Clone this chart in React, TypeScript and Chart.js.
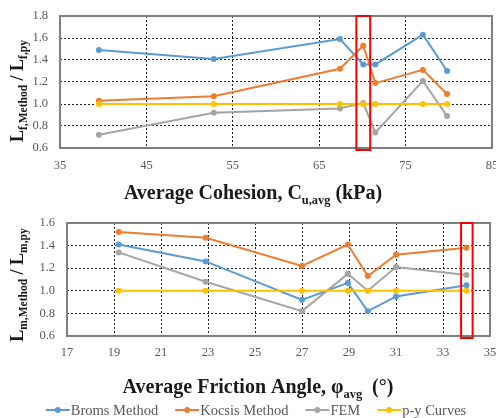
import React, { useEffect, useRef } from "react";
import { Chart, registerables } from "chart.js";

Chart.register(...registerables);

// ---------- DATA ----------
const seriesNames = ["Broms Method", "Kocsis Method", "FEM", "p-y Curves"];
const seriesColors = ["#5B9BD5", "#ED7D31", "#A5A5A5", "#FFC000"];

// Top chart: Average Cohesion (kPa)
const cohesionX = [39.5, 52.8, 67.4, 70.1, 71.5, 77.0, 79.8];
const cohesionBroms = [1.49, 1.41, 1.59, 1.36, 1.36, 1.63, 1.3];
const cohesionKocsis = [1.03, 1.07, 1.32, 1.53, 1.19, 1.31, 1.09];
const cohesionFEM = [0.72, 0.92, 0.96, 1.01, 0.74, 1.21, 0.89];
const cohesionPY = [1.0, 1.0, 1.0, 1.0, 1.0, 1.0, 1.0];
const cohesionXTicks = { min: 35, max: 85, step: 10 };
const cohesionYTicks = { min: 0.6, max: 1.8, step: 0.2 };
const cohesionHighlight = [69.3, 70.9];

// Bottom chart: Average Friction Angle (deg)
const frictionX = [19.2, 22.9, 27.0, 28.95, 29.8, 31.0, 34.0];
const frictionBroms = [1.41, 1.26, 0.92, 1.07, 0.82, 0.95, 1.05];
const frictionKocsis = [1.52, 1.47, 1.22, 1.41, 1.13, 1.32, 1.38];
const frictionFEM = [1.34, 1.08, 0.82, 1.15, 1.0, 1.21, 1.14];
const frictionPY = [1.0, 1.0, 1.0, 1.0, 1.0, 1.0, 1.0];
const frictionXTicks = { min: 17, max: 35, step: 2 };
const frictionYTicks = { min: 0.6, max: 1.6, step: 0.2 };
const frictionHighlight = [33.77, 34.26];

type Part = { t: string; sub?: boolean };

const topYTitle: Part[] = [
  { t: "L" }, { t: "f,Method", sub: true }, { t: " / L" }, { t: "f,py", sub: true },
];
const topXTitle: Part[] = [
  { t: "Average Cohesion, C" }, { t: "u,avg", sub: true }, { t: " (kPa)" },
];
const botYTitle: Part[] = [
  { t: "L" }, { t: "m,Method", sub: true }, { t: " / L" }, { t: "m,py", sub: true },
];
const botXTitle: Part[] = [
  { t: "Average Friction Angle, \u03C6" }, { t: "avg", sub: true }, { t: "  (\u00B0)" },
];

const FONT = '"Liberation Serif", "Times New Roman", serif';
const W = 496;

function drawRich(
  ctx: CanvasRenderingContext2D,
  parts: Part[],
  x: number,
  y: number,
  size: number,
  subRatio: number,
  color: string
) {
  const subSize = size * subRatio;
  const fonts = parts.map((p) => `bold ${p.sub ? subSize : size}px ${FONT}`);
  let total = 0;
  const widths = parts.map((p, i) => {
    ctx.font = fonts[i];
    const w = ctx.measureText(p.t).width;
    total += w;
    return w;
  });
  let cx = x - total / 2;
  ctx.fillStyle = color;
  ctx.textAlign = "left";
  ctx.textBaseline = "alphabetic";
  parts.forEach((p, i) => {
    ctx.font = fonts[i];
    ctx.fillText(p.t, cx, y + (p.sub ? size * 0.24 : 0));
    cx += widths[i];
  });
}

interface ChartSpec {
  height: number;
  xs: number[];
  series: number[][];
  xTicks: { min: number; max: number; step: number };
  yTicks: { min: number; max: number; step: number };
  plot: { left: number; right: number; top: number; bottom: number };
  xTickPad: number;
  yTickPad: number;
  yTitle: Part[];
  yTitlePos: [number, number];
  xTitle: Part[];
  xTitlePos: [number, number];
  highlight: number[];
  legendY?: number;
}

function makeChart(canvas: HTMLCanvasElement, s: ChartSpec) {
  const datasets = s.series.map((vals, i) => ({
    label: seriesNames[i],
    data: s.xs.map((x, j) => ({ x, y: vals[j] })),
    borderColor: seriesColors[i],
    backgroundColor: seriesColors[i],
    borderWidth: 2,
    pointRadius: 3,
    pointBorderWidth: 0,
    pointBackgroundColor: seriesColors[i],
    tension: 0,
    order: 4 - i,
  }));

  const overlay = {
    id: "overlay",
    beforeDatasetsDraw(chart: any) {
      const { ctx, chartArea: a } = chart;
      ctx.save();
      ctx.strokeStyle = "#7F7F7F";
      ctx.lineWidth = 2;
      ctx.strokeRect(a.left, a.top, a.right - a.left, a.bottom - a.top);
      ctx.restore();
    },
    afterDatasetsDraw(chart: any) {
      const { ctx, chartArea: a, scales } = chart;
      const x0 = scales.x.getPixelForValue(s.highlight[0]);
      const x1 = scales.x.getPixelForValue(s.highlight[1]);
      ctx.save();
      ctx.strokeStyle = "#FF0000";
      ctx.lineWidth = 2;
      ctx.strokeRect(x0, a.top, x1 - x0, a.bottom - a.top + 2);
      ctx.restore();
    },
    afterDraw(chart: any) {
      const ctx: CanvasRenderingContext2D = chart.ctx;
      ctx.save();
      // y title
      ctx.translate(s.yTitlePos[0], s.yTitlePos[1]);
      ctx.rotate(-Math.PI / 2);
      drawRich(ctx, s.yTitle, 0, 0, 18, 0.64, "#1A1A1A");
      ctx.restore();
      ctx.save();
      drawRich(ctx, s.xTitle, s.xTitlePos[0], s.xTitlePos[1], 20, 0.62, "#1A1A1A");
      ctx.restore();

      if (s.legendY !== undefined) {
        ctx.save();
        const fsz = 14.5;
        ctx.font = `${fsz}px ${FONT}`;
        const lineW = 24;
        const gapText = 1;
        const gapItem = 17;
        const widths = seriesNames.map((n) => ctx.measureText(n).width);
        const total =
          widths.reduce((p, c) => p + c, 0) +
          seriesNames.length * (lineW + gapText) +
          (seriesNames.length - 1) * gapItem;
        let x = chart.width / 2 + 8 - total / 2;
        const y = s.legendY;
        seriesNames.forEach((n, i) => {
          ctx.strokeStyle = seriesColors[i];
          ctx.fillStyle = seriesColors[i];
          ctx.lineWidth = 2;
          ctx.beginPath();
          ctx.moveTo(x, y);
          ctx.lineTo(x + lineW, y);
          ctx.stroke();
          ctx.beginPath();
          ctx.arc(x + lineW / 2, y, 3, 0, Math.PI * 2);
          ctx.fill();
          x += lineW + gapText;
          ctx.fillStyle = "#595959";
          ctx.textAlign = "left";
          ctx.textBaseline = "middle";
          ctx.fillText(n, x, y + 1);
          x += widths[i] + gapItem;
        });
        ctx.restore();
      }
    },
  };

  const tickFont = { family: FONT, size: 12.5 };

  return new Chart(canvas, {
    type: "line",
    data: { datasets },
    options: {
      animation: false,
      responsive: false,
      maintainAspectRatio: false,
      devicePixelRatio: 1,
      layout: {
        padding: { top: s.plot.top, right: W - s.plot.right, left: 0, bottom: 0 },
      },
      plugins: {
        legend: { display: false },
        tooltip: { enabled: false },
        title: { display: false },
      },
      scales: {
        x: {
          type: "linear",
          min: s.xTicks.min,
          max: s.xTicks.max,
          ticks: {
            stepSize: s.xTicks.step,
            color: "#595959",
            font: tickFont,
            padding: s.xTickPad,
            maxRotation: 0,
            autoSkip: false,
          },
          grid: { color: "#222222", lineWidth: 1, drawTicks: false },
          border: { display: false, dash: [2, 2] },
          afterFit(scale: any) {
            scale.height = s.height - s.plot.bottom;
            scale.paddingLeft = 0;
            scale.paddingRight = 0;
          },
        },
        y: {
          type: "linear",
          min: s.yTicks.min,
          max: s.yTicks.max,
          ticks: {
            stepSize: s.yTicks.step,
            color: "#595959",
            font: tickFont,
            padding: s.yTickPad,
            callback: (v: any) => Number(v).toFixed(1),
          },
          grid: { color: "#222222", lineWidth: 1, drawTicks: false },
          border: { display: false, dash: [2, 2] },
          afterFit(scale: any) {
            scale.width = s.plot.left;
            scale.paddingTop = 0;
            scale.paddingBottom = 0;
          },
        },
      },
    },
    plugins: [overlay],
  } as any);
}

const topSpec: ChartSpec = {
  height: 208,
  xs: cohesionX,
  series: [cohesionBroms, cohesionKocsis, cohesionFEM, cohesionPY],
  xTicks: cohesionXTicks,
  yTicks: cohesionYTicks,
  plot: { left: 60, right: 493, top: 16, bottom: 148 },
  xTickPad: 10,
  yTickPad: 12,
  yTitle: topYTitle,
  yTitlePos: [23, 91],
  xTitle: topXTitle,
  xTitlePos: [253, 199],
  highlight: cohesionHighlight,
};

const botSpec: ChartSpec = {
  height: 210,
  xs: frictionX,
  series: [frictionBroms, frictionKocsis, frictionFEM, frictionPY],
  xTicks: frictionXTicks,
  yTicks: frictionYTicks,
  plot: { left: 67, right: 490, top: 15, bottom: 128 },
  xTickPad: 9,
  yTickPad: 12,
  yTitle: botYTitle,
  yTitlePos: [23, 77],
  xTitle: botXTitle,
  xTitlePos: [258, 185],
  highlight: frictionHighlight,
  legendY: 202,
};

export default function App() {
  const topRef = useRef<HTMLCanvasElement>(null);
  const botRef = useRef<HTMLCanvasElement>(null);

  useEffect(() => {
    document.body.style.margin = "0";
    document.body.style.background = "#FFFFFF";
    const c1 = makeChart(topRef.current!, topSpec);
    const c2 = makeChart(botRef.current!, botSpec);
    return () => {
      c1.destroy();
      c2.destroy();
    };
  }, []);

  return (
    <div style={{ width: W, background: "#FFFFFF" }}>
      <canvas
        ref={topRef}
        width={W}
        height={topSpec.height}
        style={{ display: "block", width: W, height: topSpec.height }}
      />
      <canvas
        ref={botRef}
        width={W}
        height={botSpec.height}
        style={{ display: "block", width: W, height: botSpec.height }}
      />
    </div>
  );
}
